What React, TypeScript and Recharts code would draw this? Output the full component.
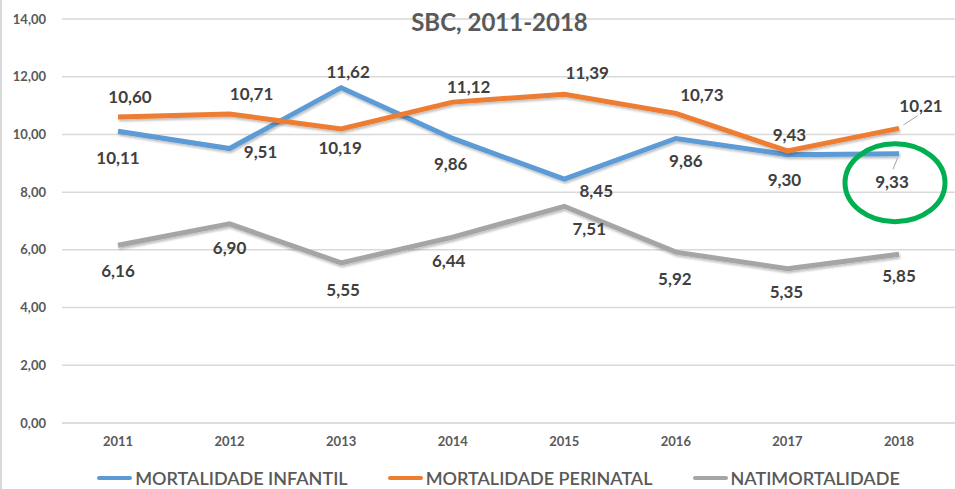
import React from "react";
import {
  LineChart,
  Line,
  XAxis,
  YAxis,
  CartesianGrid,
  Legend,
  ReferenceDot,
  Customized,
} from "recharts";

const years = ["2011", "2012", "2013", "2014", "2015", "2016", "2017", "2018"];
const infantil = [10.11, 9.51, 11.62, 9.86, 8.45, 9.86, 9.3, 9.33];
const perinatal = [10.6, 10.71, 10.19, 11.12, 11.39, 10.73, 9.43, 10.21];
const natimortalidade = [6.16, 6.9, 5.55, 6.44, 7.51, 5.92, 5.35, 5.85];
const yTicks = [0, 2, 4, 6, 8, 10, 12, 14];

const data = years.map((year, i) => ({
  year,
  infantil: infantil[i],
  perinatal: perinatal[i],
  natimortalidade: natimortalidade[i],
}));

// label placement (dx, dy from the point), like the excel layout
const infantilOffsets = [[0, 26], [31, 3], [7, -16], [-2, 25], [32, 11], [10, 22], [-3, 25], [-7, 28]];
const perinatalOffsets = [[12, -21], [22, -20], [-1, 19], [16, -16], [23, -22], [26, -19], [2, -16], [22, -23]];
const natiOffsets = [[0, 25], [0, 24], [2, 27], [-4, 23], [25, 22], [-1, 26], [-1, 23], [0, 21]];

const BLUE = "#5B9BD5";
const ORANGE = "#ED7D31";
const GRAY = "#A5A5A5";
const FONT = "Lato, 'Open Sans', sans-serif";

const fmt = (v: number) => v.toFixed(2).replace(".", ",");

const makeLabel = (offsets: number[][], leaderAt: number[]) => (props: any) => {
  const { x, y, value, index } = props;
  const [dx, dy] = offsets[index];
  const leader = leaderAt.includes(index);
  return (
    <g key={`lbl-${index}`}>
      {leader && (
        <line
          x1={x + dx * 0.2}
          y1={y + dy * 0.15}
          x2={x + dx * 0.85}
          y2={y + dy * 0.55}
          stroke="#A6A6A6"
          strokeWidth={1}
        />
      )}
      <text
        x={x + dx}
        y={y + dy}
        textAnchor="middle"
        dominantBaseline="central"
        fontFamily={FONT}
        fontWeight={700}
        fontSize={17}
        fill="#404040"
      >
        {fmt(value)}
      </text>
    </g>
  );
};

const legendItems = [
  { label: "MORTALIDADE INFANTIL", color: BLUE },
  { label: "MORTALIDADE PERINATAL", color: ORANGE },
  { label: "NATIMORTALIDADE", color: GRAY },
];

const LegendContent = () => (
  <div
    style={{
      display: "flex",
      justifyContent: "center",
      gap: 40,
      height: 26,
      alignItems: "center",
      fontFamily: FONT,
      fontSize: 18,
      fontWeight: 600,
      color: "#595959",
      paddingLeft: 40,
    }}
  >
    {legendItems.map((it) => (
      <div key={it.label} style={{ display: "flex", alignItems: "center" }}>
        <span
          style={{
            display: "inline-block",
            width: 35,
            height: 4,
            background: it.color,
            borderRadius: 2,
            marginRight: 3,
          }}
        />
        <span>{it.label}</span>
      </div>
    ))}
  </div>
);

const Title = (props: any) => {
  const w = props.width ?? 955;
  return (
    <text
      x={w / 2 + 20}
      y={21}
      textAnchor="middle"
      dominantBaseline="central"
      fontFamily={FONT}
      fontWeight={700}
      fontSize={24}
      fill="#595959"
    >
      SBC, 2011-2018
    </text>
  );
};

export default function App() {
  return (
    <div
      style={{
        position: "absolute",
        left: 0,
        top: 0,
        width: 955,
        height: 489,
        background: "#fff",
        borderLeft: "2px solid #D9D9D9",
        boxSizing: "border-box",
      }}
    >
      <LineChart
        width={953}
        height={489}
        data={data}
        margin={{ top: 19, right: 0, left: 0, bottom: 10 }}
      >
        <defs>
          <filter id="shadow" x="-5%" y="-20%" width="110%" height="140%">
            <feDropShadow dx="1" dy="2" stdDeviation="1.2" floodColor="#000" floodOpacity="0.25" />
          </filter>
        </defs>
        <CartesianGrid vertical={false} stroke="#D9D9D9" strokeWidth={1.5} />
        <XAxis
          dataKey="year"
          axisLine={{ stroke: "#D9D9D9" }}
          tickLine={false}
          height={30}
          padding={{ left: 56, right: 56 }}
          tick={{ fontFamily: FONT, fontWeight: 700, fontSize: 13, fill: "#595959" }}
          dy={6}
        />
        <YAxis
          domain={[0, 14]}
          ticks={yTicks}
          width={60}
          axisLine={false}
          tickLine={false}
          tickFormatter={fmt}
          tick={{ fontFamily: FONT, fontWeight: 700, fontSize: 13, fill: "#595959" }}
          dx={-8}
        />
        <Legend
          verticalAlign="bottom"
          content={<LegendContent />}
          wrapperStyle={{ bottom: -2 }}
        />
        <Line
          dataKey="infantil"
          stroke={BLUE}
          strokeWidth={5}
          dot={false}
          filter="url(#shadow)"
          isAnimationActive={false}
          label={makeLabel(infantilOffsets, [7])}
        />
        <Line
          dataKey="perinatal"
          stroke={ORANGE}
          strokeWidth={5}
          dot={false}
          filter="url(#shadow)"
          isAnimationActive={false}
          label={makeLabel(perinatalOffsets, [7])}
        />
        <Line
          dataKey="natimortalidade"
          stroke={GRAY}
          strokeWidth={5}
          dot={false}
          filter="url(#shadow)"
          isAnimationActive={false}
          label={makeLabel(natiOffsets, [])}
        />
        <ReferenceDot
          x="2018"
          y={infantil[7]}
          shape={(p: any) => (
            <ellipse
              cx={p.cx - 4}
              cy={p.cy + 29}
              rx={50}
              ry={39}
              fill="none"
              stroke="#00B050"
              strokeWidth={5}
            />
          )}
        />
        <Customized component={Title} />
      </LineChart>
    </div>
  );
}
